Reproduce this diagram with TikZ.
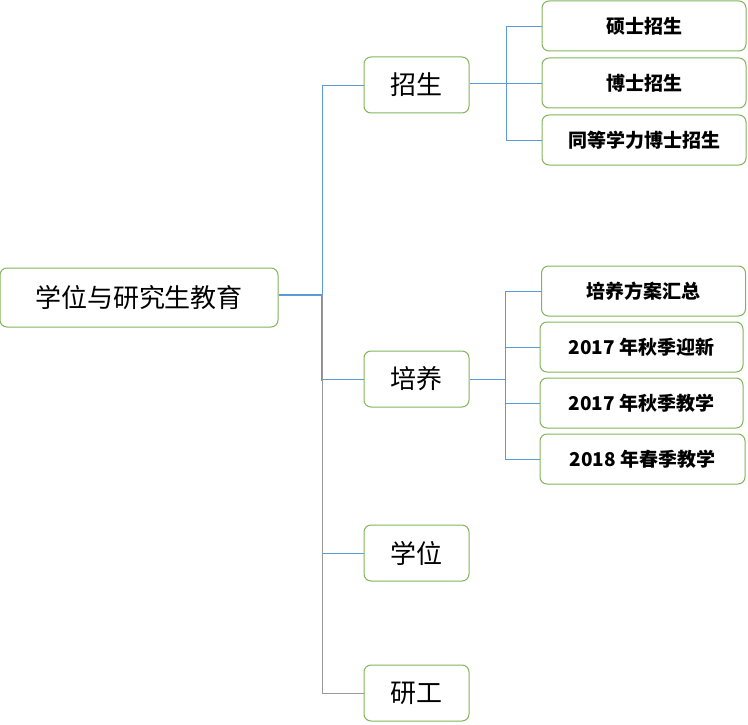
\documentclass[tikz,border=0pt]{standalone}
\usepackage{fontspec}
\newfontfamily\cjk{Noto Sans CJK SC}
\definecolor{lnc}{RGB}{91,155,213}
\definecolor{bdc}{RGB}{130,180,90}
\begin{document}
\begin{tikzpicture}[x=1pt,y=-1pt,
  box/.style={draw=bdc, line width=1pt, rounded corners=7pt, fill=white, inner sep=0pt},
  big/.style={box, minimum width=105pt, minimum height=56pt, font=\cjk\fontsize{26}{30}\selectfont},
  leaf/.style={box, minimum width=204pt, minimum height=50pt, font=\cjk\bfseries\fontsize{19}{22}\selectfont},
  ln/.style={draw=lnc, line width=0.9pt},
  gl/.style={draw=gray!80, line width=0.7pt}]
\useasboundingbox (0,0) rectangle (748,725);
\node[box, minimum width=278pt, minimum height=59pt, font=\cjk\fontsize{26}{30}\selectfont] (root) at (139,297.5) {学位与研究生教育};
\node[big] (zs) at (416.5,85) {招生};
\node[big] (py) at (416.5,379) {培养};
\node[big] (xw) at (416.5,553) {学位};
\node[big] (yg) at (416.5,693) {研工};
\node[leaf] (a1) at (644,26) {硕士招生};
\node[leaf] (a2) at (644,83) {博士招生};
\node[leaf] (a3) at (644,140) {同等学力博士招生};
\node[leaf] (b1) at (643.5,291) {培养方案汇总};
\node[leaf, minimum width=203pt] (b2) at (641.5,347) {2017 年秋季迎新};
\node[leaf, minimum width=203pt] (b3) at (641.5,403) {2017 年秋季教学};
\node[leaf, minimum width=205pt] (b4) at (642.5,459) {2018 年春季教学};
\coordinate (r) at (322,295);
\draw[ln, line width=2.5pt] (root.east |- r) -- (r) -- (322,381);
\draw[ln] (r) |- (zs.west);
\draw[ln] (r) |- (py.west);
\draw[ln] (r) |- (xw.west);
\draw[gl] (r) |- (yg.west);
\coordinate (s) at (506,83);
\draw[ln] (zs.east |- s) -- (s);
\draw[ln] (s) |- (a1.west);
\draw[ln] (s) |- (a3.west);
\draw[ln] (s) -- (a2.west);
\coordinate (t) at (505,379);
\draw[ln] (py.east) -- (t);
\draw[ln] (t) |- (b1.west);
\draw[ln] (t) |- (b2.west);
\draw[ln] (t) |- (b3.west);
\draw[ln] (t) |- (b4.west);
\end{tikzpicture}
\end{document}
